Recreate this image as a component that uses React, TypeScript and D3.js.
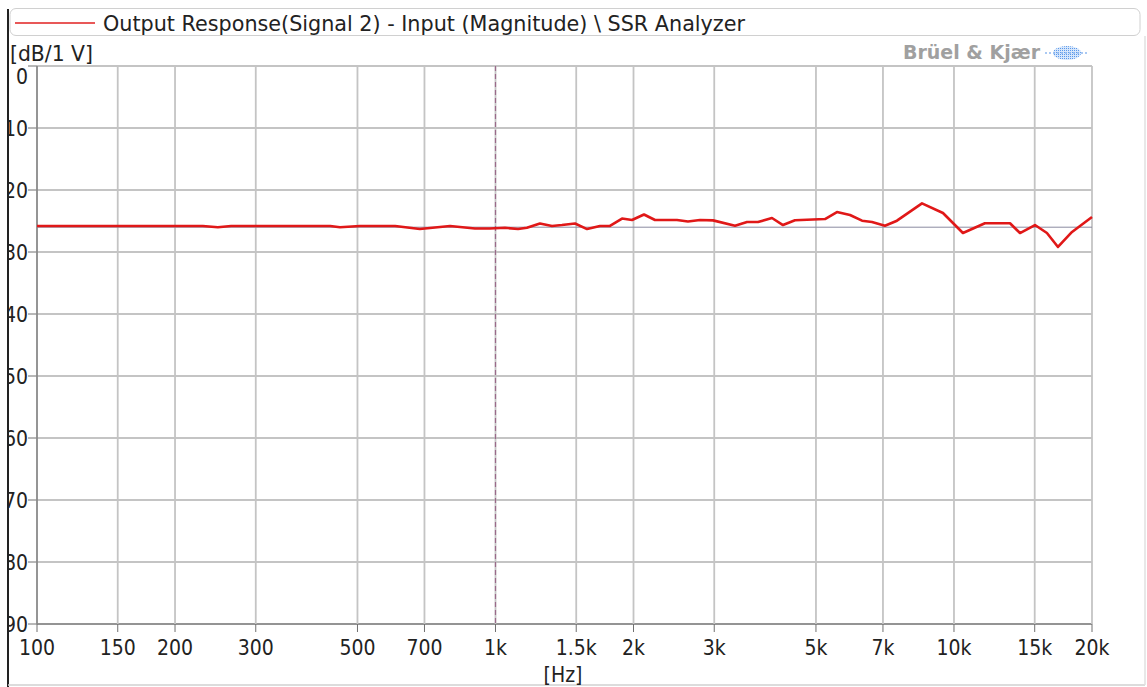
import React from "react";
import * as d3 from "d3";

const freqs = [100, 150, 200, 230, 248, 265, 436, 458, 506, 604, 684, 796, 902, 972, 1049, 1120, 1171, 1250, 1328, 1396, 1491, 1584, 1690, 1777, 1888, 1985, 2108, 2228, 2488, 2629, 2793, 2982, 3330, 3537, 3737, 4009, 4237, 4500, 5232, 5556, 5933, 6302, 6625, 7070, 7510, 8516, 9462, 10460, 11680, 13250, 13930, 15020, 15950, 16860, 18090, 20000];
const levels = [25.8, 25.8, 25.8, 25.8, 26.0, 25.8, 25.8, 26.0, 25.8, 25.8, 26.3, 25.8, 26.2, 26.2, 26.1, 26.3, 26.1, 25.4, 25.8, 25.65, 25.4, 26.3, 25.8, 25.8, 24.6, 24.84, 23.95, 24.84, 24.84, 25.08, 24.84, 24.9, 25.76, 25.16, 25.16, 24.52, 25.65, 24.89, 24.68, 23.55, 24.03, 24.95, 25.16, 25.76, 24.95, 22.15, 23.71, 26.94, 25.37, 25.37, 26.94, 25.65, 26.94, 29.19, 26.77, 24.35];
const xTicks = [100, 150, 200, 300, 500, 700, 1000, 1500, 2000, 3000, 5000, 7000, 10000, 15000, 20000];
const xTickLabels = ["100", "150", "200", "300", "500", "700", "1k", "1.5k", "2k", "3k", "5k", "7k", "10k", "15k", "20k"];
const yTicks = [0, 10, 20, 30, 40, 50, 60, 70, 80, 90];
const referenceLevel = 26;
const cursorFreq = 1000;
const legendText = "Output Response(Signal 2) - Input (Magnitude) \\ SSR Analyzer";

const W = 1147;
const H = 687;
const left = 37, right = 1092, top = 66, bottom = 624;
const font = "'DejaVu Sans Condensed', 'DejaVu Sans', sans-serif";
const wideFont = "'DejaVu Sans', sans-serif";

export default function App() {
  const x = d3.scaleLog().domain([100, 20000]).range([left, right]);
  const y = d3.scaleLinear().domain([0, 90]).range([top, bottom]);
  const line = d3
    .line<number>()
    .x((_, i) => x(freqs[i]))
    .y((d) => y(d));
  const path = line(levels) || "";

  return (
    <svg
      width={W}
      height={H}
      style={{ position: "absolute", left: 0, top: 0, background: "#fff" }}
      fontFamily={font}
    >
      <defs>
        <clipPath id="ylab">
          <rect x={9} y={0} width={40} height={H} />
        </clipPath>
        <pattern id="dots" width={2} height={2} patternUnits="userSpaceOnUse">
          <rect width={2} height={2} fill="#d6e6fb" />
          <rect width={1} height={1} fill="#5a98ea" />
        </pattern>
      </defs>
      {/* outer frame */}
      <line x1={8} x2={8} y1={9} y2={H} stroke="#222" strokeWidth={2} />
      <line x1={8} x2={1145} y1={685} y2={685} stroke="#d0d0d0" strokeWidth={1.5} />
      <line x1={1145} x2={1145} y1={36} y2={685} stroke="#e0e0e0" strokeWidth={1.5} />

      {/* legend */}
      <rect x={10} y={8.5} width={1130} height={27} rx={6} fill="#fff" stroke="#d0d0d0" strokeWidth={1} />
      <line x1={15} x2={95} y1={23} y2={23} stroke="#e02020" strokeWidth={1.6} />
      <text x={103} y={31} fontSize={21} fill="#222" fontFamily={wideFont} textLength={642} lengthAdjust="spacingAndGlyphs">{legendText}</text>

      {/* unit label */}
      <text x={10} y={61} fontSize={21} fill="#222" fontFamily={wideFont} textLength={83} lengthAdjust="spacingAndGlyphs">[dB/1 V]</text>

      {/* logo */}
      <text x={1040} y={59} fontSize={19} fontWeight="bold" fill="#a0a0a0" textAnchor="end" fontFamily={wideFont} textLength={137} lengthAdjust="spacingAndGlyphs">Brüel &amp; Kjær</text>
      <ellipse cx={1067} cy={53} rx={14} ry={7} fill="url(#dots)" />
      <line x1={1045} x2={1089} y1={53} y2={53} stroke="#8fb8f0" strokeWidth={1.5} strokeDasharray="2 2" />

      {/* grid */}
      {yTicks.map((t) => (
        <g key={"y" + t}>
          <line x1={left} x2={right} y1={y(t)} y2={y(t)} stroke={t === 90 ? "#707070" : "#c4c4c4"} strokeWidth={t === 90 ? 1.5 : 1.8} />
          <line x1={28} x2={left} y1={y(t)} y2={y(t)} stroke="#707070" strokeWidth={1} />
        </g>
      ))}
      {xTicks.map((t) => (
        <g key={"x" + t}>
          <line x1={x(t)} x2={x(t)} y1={top} y2={bottom} stroke={t === 100 ? "#8a8a8a" : "#c4c4c4"} strokeWidth={1.8} />
          <line x1={x(t)} x2={x(t)} y1={bottom} y2={bottom + 8} stroke="#707070" strokeWidth={1} />
        </g>
      ))}

      {/* reference and cursor */}
      <line x1={left} x2={right} y1={y(referenceLevel)} y2={y(referenceLevel)} stroke="#8a8aa0" strokeWidth={1} />
      <line x1={x(cursorFreq)} x2={x(cursorFreq)} y1={top} y2={bottom} stroke="#9a6a8a" strokeWidth={1.2} strokeDasharray="5 3" />

      {/* data */}
      <path d={path} fill="none" stroke="#e01818" strokeWidth={2.6} strokeLinejoin="round" />

      {/* y labels */}
      <g clipPath="url(#ylab)">
        {yTicks.map((t) => (
          <text key={"yl" + t} x={28} y={Math.max(y(t), 76)} dy="0.36em" fontSize={21} textAnchor="end" fill="#222">
            {String(t)}
          </text>
        ))}
      </g>

      {/* x labels */}
      {xTicks.map((t, i) => (
        <text key={"xl" + t} x={x(t)} y={655} fontSize={21} textAnchor="middle" fill="#222">
          {xTickLabels[i]}
        </text>
      ))}
      <text x={563} y={682} fontSize={21} textAnchor="middle" fill="#222">[Hz]</text>
    </svg>
  );
}
